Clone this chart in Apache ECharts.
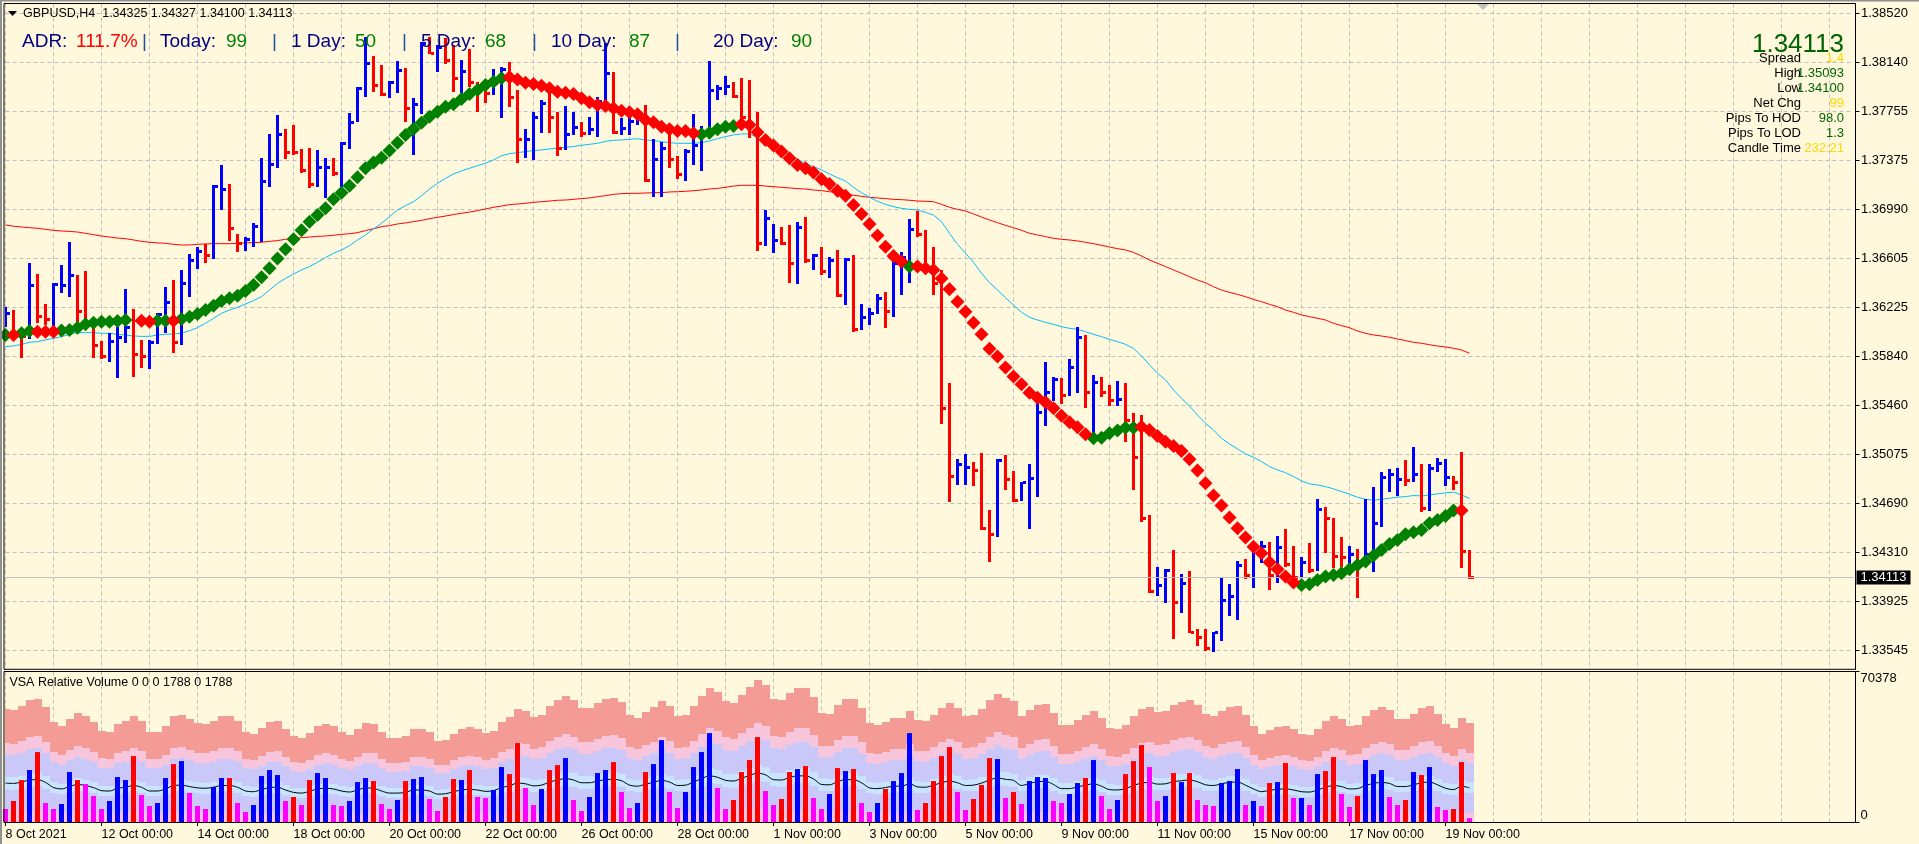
<!DOCTYPE html>
<html>
<head>
<meta charset="utf-8">
<title>GBPUSD,H4</title>
<script src="https://cdn.jsdelivr.net/npm/echarts@6/dist/echarts.min.js"></script>
<style>
html, body { margin: 0; padding: 0; background: #FFF8DC; }
#main { width: 1919px; height: 844px; }
</style>
</head>
<body>
<div id="main"></div>
<script>
var tickLabels = ['8 Oct 2021','12 Oct 00:00','14 Oct 00:00','18 Oct 00:00','20 Oct 00:00','22 Oct 00:00','26 Oct 00:00','28 Oct 00:00','1 Nov 00:00','3 Nov 00:00','5 Nov 00:00','9 Nov 00:00','11 Nov 00:00','15 Nov 00:00','17 Nov 00:00','19 Nov 00:00'];
var priceTicks = [1.38520,1.38140,1.37755,1.37375,1.36990,1.36605,1.36225,1.35840,1.35460,1.35075,1.34690,1.34310,1.33925,1.33545];
var lastPrice = 1.34113;

var barHigh = [1.36224,1.36203,1.36065,1.36568,1.36485,1.36250,1.36411,1.36555,1.36732,1.36474,1.36508,1.36099,1.35961,1.36021,1.36073,1.36367,1.36211,1.35969,1.35969,1.36177,1.36385,1.36437,1.36516,1.36640,1.36692,1.36716,1.37177,1.37336,1.37187,1.36794,1.36771,1.36880,1.37388,1.37578,1.37726,1.37614,1.37648,1.37461,1.37466,1.37453,1.37393,1.37393,1.37513,1.37739,1.37942,1.38338,1.38189,1.38116,1.37991,1.38148,1.38090,1.37856,1.38299,1.38338,1.38273,1.38325,1.38273,1.38155,1.38241,1.37986,1.37942,1.38083,1.38103,1.38142,1.37921,1.37614,1.37752,1.37843,1.37895,1.37752,1.37796,1.37752,1.37669,1.37713,1.37869,1.38286,1.38059,1.37700,1.37713,1.37752,1.37804,1.37536,1.37518,1.37583,1.37406,1.37461,1.37734,1.37640,1.38148,1.37960,1.38030,1.37986,1.38012,1.37999,1.37752,1.36984,1.36875,1.36849,1.36867,1.36888,1.36927,1.36638,1.36692,1.36614,1.36672,1.36606,1.36633,1.36250,1.36216,1.36328,1.36341,1.36606,1.36653,1.36914,1.36979,1.36828,1.36692,1.36516,1.35630,1.35037,1.35079,1.35014,1.35084,1.34642,1.35037,1.35071,1.34946,1.34863,1.35001,1.35474,1.35795,1.35678,1.35670,1.35818,1.36068,1.36008,1.35696,1.35678,1.35618,1.35649,1.35630,1.35396,1.35383,1.34603,1.34194,1.34178,1.34329,1.34142,1.34165,1.33709,1.33712,1.33691,1.34113,1.34064,1.34243,1.34259,1.34355,1.34399,1.34389,1.34438,1.34493,1.34360,1.34277,1.34381,1.34728,1.34668,1.34577,1.34428,1.34360,1.34337,1.34728,1.34819,1.34936,1.34962,1.34972,1.35032,1.35136,1.35001,1.35001,1.35045,1.35040,1.34907,1.35093,1.34327];
var barLow = [1.36073,1.35995,1.35831,1.35974,1.36104,1.36086,1.36057,1.36333,1.36307,1.36112,1.36099,1.35831,1.35818,1.35800,1.35675,1.35948,1.35683,1.35753,1.35743,1.35938,1.36021,1.35870,1.35930,1.36307,1.36524,1.36573,1.36601,1.36984,1.36745,1.36659,1.36664,1.36697,1.36732,1.37166,1.37315,1.37383,1.37414,1.37271,1.37158,1.37166,1.37080,1.37253,1.37166,1.37461,1.37674,1.37869,1.37903,1.37877,1.37861,1.37895,1.37674,1.37414,1.37734,1.38200,1.38064,1.38124,1.37908,1.37895,1.37947,1.37752,1.37817,1.37882,1.37700,1.37791,1.37349,1.37393,1.37375,1.37588,1.37583,1.37408,1.37453,1.37570,1.37557,1.37570,1.37557,1.37830,1.37578,1.37570,1.37570,1.37648,1.37205,1.37088,1.37088,1.37310,1.37226,1.37210,1.37336,1.37289,1.37583,1.37843,1.37882,1.37856,1.37687,1.37544,1.36667,1.36703,1.36651,1.36711,1.36416,1.36406,1.36573,1.36516,1.36474,1.36450,1.36302,1.36242,1.36034,1.36047,1.36086,1.36172,1.36062,1.36151,1.36320,1.36411,1.36776,1.36490,1.36320,1.35313,1.34707,1.34837,1.34837,1.34832,1.34485,1.34238,1.34433,1.34798,1.34702,1.34712,1.34493,1.34746,1.35300,1.35492,1.35469,1.35534,1.35557,1.35440,1.35240,1.35526,1.35456,1.35456,1.35175,1.34798,1.34545,1.33991,1.33973,1.33918,1.33631,1.33835,1.33678,1.33582,1.33543,1.33530,1.33621,1.33817,1.33783,1.34100,1.34035,1.34225,1.34017,1.34074,1.34199,1.34108,1.34108,1.34152,1.34168,1.34308,1.34186,1.34199,1.34199,1.33957,1.34277,1.34160,1.34511,1.34785,1.34754,1.34832,1.34863,1.34629,1.34637,1.34936,1.34832,1.34798,1.34186,1.34100];
var barClose = [1.36177,1.36008,1.35995,1.36394,1.36151,1.36130,1.36406,1.36391,1.36469,1.36190,1.36104,1.35925,1.35839,1.35956,1.35987,1.36065,1.35852,1.35839,1.35951,1.36164,1.36263,1.35948,1.36411,1.36593,1.36659,1.36625,1.37166,1.37148,1.36838,1.36724,1.36750,1.36854,1.37203,1.37336,1.37570,1.37432,1.37432,1.37289,1.37184,1.37315,1.37315,1.37271,1.37500,1.37669,1.37929,1.38129,1.37960,1.37887,1.37981,1.38077,1.37773,1.37809,1.38286,1.38208,1.38254,1.38148,1.38012,1.38064,1.37981,1.37908,1.37895,1.37973,1.38083,1.37861,1.37531,1.37536,1.37708,1.37817,1.37705,1.37466,1.37575,1.37630,1.37583,1.37609,1.37830,1.38051,1.37588,1.37622,1.37674,1.37713,1.37218,1.37380,1.37461,1.37375,1.37258,1.37440,1.37487,1.37570,1.37916,1.37934,1.37952,1.37869,1.37708,1.37648,1.36719,1.36916,1.36745,1.36724,1.36568,1.36846,1.36588,1.36630,1.36503,1.36593,1.36318,1.36598,1.36047,1.36146,1.36177,1.36291,1.36190,1.36568,1.36614,1.36833,1.36789,1.36529,1.36411,1.35430,1.34902,1.34993,1.34972,1.34949,1.34493,1.34446,1.35027,1.34881,1.34712,1.34858,1.34884,1.35401,1.35560,1.35657,1.35534,1.35753,1.35987,1.35557,1.35636,1.35557,1.35500,1.35505,1.35339,1.35050,1.34571,1.34004,1.34051,1.34165,1.33918,1.34069,1.33686,1.33644,1.33556,1.33686,1.33934,1.33965,1.34207,1.34129,1.34355,1.34355,1.34129,1.34347,1.34212,1.34113,1.34233,1.34165,1.34642,1.34571,1.34277,1.34272,1.34295,1.34199,1.34295,1.34532,1.34894,1.34915,1.34881,1.34871,1.34915,1.34650,1.34962,1.35006,1.34897,1.34858,1.34316,1.34113];
var barDirs = 'brrbrrbbbrrrrbbbrrbbbrbbbrbbrrbbbbbrrrrbbrbbbbrrbbrbbrbrrbrrrbbrrbbbrrbbrbbbrbbbrbbrrbbbbbbrrrrbbrrbrbrbrbrbbbrbbbrrrrrbbrrrbrrbbbbbrbbrbrrbrrrrbbrbrrrbbbbrbbrbrrbrbrrrbrbbbbbrbrbbbrrr'.split('');

var trendValues = [1.36008,1.36008,1.36021,1.36039,1.36034,1.36034,1.36034,1.36042,1.36047,1.36065,1.36091,1.36104,1.36112,1.36112,1.36117,1.36125,null,1.36120,1.36112,1.36120,1.36120,1.36120,1.36133,1.36151,1.36172,1.36203,1.36237,1.36274,1.36294,1.36315,1.36351,1.36398,1.36458,1.36529,1.36606,1.36677,1.36755,1.36825,1.36893,1.36945,1.36997,1.37067,1.37119,1.37174,1.37239,1.37310,1.37354,1.37393,1.37448,1.37510,1.37570,1.37617,1.37666,1.37713,1.37752,1.37791,1.37809,1.37851,1.37890,1.37921,1.37960,1.37986,1.38012,1.38020,1.38004,1.37978,1.37968,1.37955,1.37934,1.37908,1.37900,1.37890,1.37856,1.37825,1.37804,1.37796,1.37778,1.37760,1.37747,1.37731,1.37687,1.37669,1.37635,1.37614,1.37601,1.37601,1.37583,1.37575,1.37588,1.37614,1.37635,1.37640,1.37653,1.37648,1.37591,1.37531,1.37487,1.37440,1.37388,1.37336,1.37310,1.37276,1.37224,1.37187,1.37135,1.37096,1.37023,1.36953,1.36875,1.36784,1.36697,1.36625,1.36581,1.36542,1.36542,1.36529,1.36516,1.36450,1.36365,1.36268,1.36190,1.36104,1.36013,1.35901,1.35839,1.35753,1.35683,1.35623,1.35557,1.35518,1.35482,1.35435,1.35378,1.35326,1.35287,1.35232,1.35201,1.35206,1.35240,1.35261,1.35284,1.35284,1.35292,1.35266,1.35219,1.35175,1.35141,1.35102,1.35037,1.34949,1.34850,1.34754,1.34676,1.34582,1.34499,1.34426,1.34355,1.34303,1.34233,1.34178,1.34121,1.34074,1.34056,1.34061,1.34095,1.34121,1.34134,1.34147,1.34178,1.34212,1.34238,1.34285,1.34329,1.34376,1.34407,1.34451,1.34467,1.34485,1.34537,1.34563,1.34594,1.34637,1.34637,1.34634];
var trendDirs = 'grggrrrgggggggggrrrggrgggggggggggggggggggggggggggggggggggggggggrrrrrrrrrrrrrrrrrrrrrrrrgggggrrrrrrrrrrrrrrrrrrrrrgrrrrrrrrrrrrrrrrrrrrrrggggggrrrrrrrrrrrrrrrrrrrrggggggggggggggggggggr'.split('');

var maFast = [1.35917,1.35922,1.35935,1.35951,1.35956,1.35969,1.35982,1.35995,1.36013,1.36026,1.36026,1.36026,1.36021,1.36021,1.36013,1.36008,1.36000,1.35997,1.35997,1.36008,1.36013,1.36016,1.36021,1.36042,1.36065,1.36099,1.36138,1.36177,1.36203,1.36224,1.36250,1.36276,1.36307,1.36359,1.36411,1.36450,1.36484,1.36516,1.36542,1.36576,1.36612,1.36646,1.36672,1.36706,1.36750,1.36789,1.36836,1.36880,1.36932,1.36984,1.37018,1.37049,1.37096,1.37148,1.37192,1.37231,1.37265,1.37289,1.37310,1.37330,1.37349,1.37375,1.37408,1.37424,1.37432,1.37440,1.37448,1.37453,1.37461,1.37466,1.37474,1.37479,1.37489,1.37497,1.37505,1.37520,1.37528,1.37531,1.37536,1.37541,1.37531,1.37526,1.37518,1.37510,1.37505,1.37505,1.37505,1.37510,1.37523,1.37541,1.37557,1.37570,1.37578,1.37578,1.37552,1.37518,1.37479,1.37448,1.37414,1.37380,1.37349,1.37323,1.37297,1.37265,1.37237,1.37210,1.37161,1.37119,1.37083,1.37052,1.37028,1.37010,1.36997,1.36989,1.36984,1.36966,1.36945,1.36893,1.36802,1.36716,1.36646,1.36576,1.36490,1.36416,1.36359,1.36299,1.36242,1.36185,1.36146,1.36125,1.36107,1.36091,1.36073,1.36060,1.36052,1.36034,1.36013,1.35995,1.35974,1.35956,1.35935,1.35904,1.35844,1.35774,1.35709,1.35657,1.35578,1.35513,1.35453,1.35383,1.35318,1.35266,1.35201,1.35157,1.35118,1.35079,1.35053,1.35019,1.34980,1.34954,1.34933,1.34902,1.34868,1.34845,1.34837,1.34824,1.34806,1.34785,1.34764,1.34741,1.34725,1.34717,1.34725,1.34733,1.34741,1.34746,1.34754,1.34751,1.34759,1.34767,1.34775,1.34780,1.34759,1.34731];
var maSlow = [1.36867,1.36857,1.36851,1.36846,1.36841,1.36833,1.36825,1.36820,1.36817,1.36812,1.36802,1.36791,1.36781,1.36773,1.36765,1.36760,1.36750,1.36739,1.36732,1.36727,1.36724,1.36716,1.36711,1.36711,1.36716,1.36719,1.36721,1.36721,1.36721,1.36724,1.36727,1.36729,1.36732,1.36739,1.36745,1.36755,1.36763,1.36768,1.36773,1.36778,1.36781,1.36786,1.36794,1.36799,1.36807,1.36823,1.36838,1.36854,1.36862,1.36875,1.36883,1.36893,1.36903,1.36916,1.36927,1.36937,1.36948,1.36958,1.36968,1.36979,1.36992,1.37005,1.37015,1.37026,1.37031,1.37036,1.37044,1.37049,1.37054,1.37060,1.37062,1.37067,1.37073,1.37078,1.37088,1.37096,1.37106,1.37112,1.37114,1.37114,1.37117,1.37119,1.37119,1.37125,1.37127,1.37130,1.37135,1.37140,1.37148,1.37153,1.37161,1.37171,1.37177,1.37177,1.37177,1.37171,1.37166,1.37161,1.37156,1.37151,1.37148,1.37140,1.37135,1.37127,1.37119,1.37109,1.37099,1.37091,1.37083,1.37078,1.37073,1.37067,1.37065,1.37060,1.37054,1.37052,1.37049,1.37028,1.37005,1.36989,1.36976,1.36953,1.36929,1.36906,1.36885,1.36864,1.36846,1.36825,1.36802,1.36789,1.36776,1.36763,1.36755,1.36750,1.36742,1.36732,1.36721,1.36708,1.36695,1.36682,1.36672,1.36653,1.36625,1.36593,1.36568,1.36542,1.36516,1.36490,1.36463,1.36437,1.36416,1.36385,1.36359,1.36341,1.36325,1.36307,1.36286,1.36268,1.36247,1.36229,1.36203,1.36185,1.36164,1.36151,1.36138,1.36125,1.36099,1.36081,1.36065,1.36039,1.36021,1.36008,1.36000,1.35990,1.35977,1.35964,1.35951,1.35943,1.35932,1.35922,1.35914,1.35904,1.35891,1.35865];

var volumes = [6070,9810,19620,24290,32700,8870,6070,8410,23360,19620,17750,12140,6070,9810,21020,19620,30830,12610,7470,8870,20550,27090,28490,13550,7470,6070,16350,20550,20550,8870,4670,7940,21490,24290,21950,9810,11680,7940,19620,22890,20550,7940,7470,9810,18680,20550,19150,8410,6070,10280,19150,20090,21020,10740,5140,11680,20090,19620,24290,11680,11210,14950,25690,22420,36900,15880,7940,15410,24290,26620,29890,10280,5140,11680,22890,24290,28030,14010,6540,8870,23360,27090,38300,14010,6540,14010,25690,32700,41570,15880,6070,10280,23360,28960,39700,14480,7940,10740,23360,24760,26160,11210,6070,13080,25220,23820,24760,8870,4670,8870,15410,19150,22890,41570,5610,8870,19150,30830,35030,14010,5610,10740,17280,29890,29430,11210,14010,8410,19150,21020,20550,9810,8870,13080,18220,20550,28960,12140,6070,10280,22420,28490,35970,25690,9810,12140,22890,18680,22890,10280,7940,7470,18220,19150,24760,7940,9810,7470,18220,18680,27560,11210,11210,7940,22420,23820,30360,13080,7010,12140,28960,22420,24290,11680,7940,10280,23360,21950,25690,7010,5610,6070,28030,1788];
var volumeKinds = 'mrrbrmmbbrmmmbbbrmmbbrbmmmbbrmmbbbbmrmrbbmmbbbrmmbrbbmmrrbrmmbbrrmmbrrbmmbbbrmmbrbbmmbbbbmmrrrrmmrrbrmmbrbrmmbrbbbmrrrrmmrrrbmrmbbbmmbbrbmmbrrrmmbrbrmmmbbbmbmrbrmbmbrrmmrbbbmmrbrbmmrrm'.split('');

var bandTop = [52770,52300,54170,56970,57440,53710,46700,44830,48100,50900,49500,46700,42500,42030,45770,47170,49500,47170,42030,42030,44830,49500,49970,48100,46230,45770,47170,49500,49500,47170,42030,41100,43900,46700,47170,43430,40160,39230,41560,44830,45770,44830,42030,40630,43430,46230,45770,42030,39230,39230,40160,43430,43430,42030,37830,38290,41100,43430,44370,43430,41560,42500,46700,49040,52770,51840,49040,49970,54170,56970,58840,56970,53240,53240,55570,57440,57910,56040,49970,48570,51370,53710,56510,54170,49500,49970,54170,58840,62580,60710,56510,55570,59310,63050,66310,63980,57440,56970,60240,62580,62580,58380,50900,50440,54640,57440,57440,53240,46230,45300,46700,48570,48570,51840,47630,47170,49970,53240,55570,53240,49500,49970,52770,56970,59780,57910,56510,49500,52300,54640,55110,50900,45300,45300,47630,49970,51840,48570,43900,43430,45300,49500,52770,53710,51370,51840,54640,56040,56970,54640,50440,49500,51840,53710,54170,49970,44830,41100,42960,44370,44830,43430,41100,40630,43430,47170,49500,48100,44830,45300,49500,52300,53710,52300,48100,48100,50440,53240,54170,50440,45770,43900,48570,46230];
var bandPink = [36950,36620,37930,39890,40220,37610,32700,31390,33680,35640,34660,32700,29760,29430,32050,33030,34660,33030,29430,29430,31390,34660,34990,33680,32370,32050,33030,34660,34660,33030,29430,28780,30740,32700,33030,30410,28120,27470,29100,31390,32050,31390,29430,28450,30410,32370,32050,29430,27470,27470,28120,30410,30410,29430,26490,26810,28780,30410,31070,30410,29100,29760,32700,34340,36950,36300,34340,34990,37930,39890,41200,39890,37280,37280,38910,40220,40550,39240,34990,34010,35970,37610,39570,37930,34660,34990,37930,41200,43820,42510,39570,38910,41530,44150,46430,44800,40220,39890,42180,43820,43820,40880,35640,35320,38260,40220,40220,37280,32370,31720,32700,34010,34010,36300,33350,33030,34990,37280,38910,37280,34660,34990,36950,39890,41860,40550,39570,34660,36620,38260,38590,35640,31720,31720,33350,34990,36300,34010,30740,30410,31720,34660,36950,37610,35970,36300,38260,39240,39890,38260,35320,34660,36300,37610,37930,34990,31390,28780,30080,31070,31390,30410,28780,28450,30410,33030,34660,33680,31390,31720,34660,36620,37610,36620,33680,33680,35320,37280,37930,35320,32050,30740,34010,32370];
var bandLavender = [31640,31360,32480,34160,34440,32200,28000,26880,28840,30520,29680,28000,25480,25200,27440,28280,29680,28280,25200,25200,26880,29680,29960,28840,27720,27440,28280,29680,29680,28280,25200,24640,26320,28000,28280,26040,24080,23520,24920,26880,27440,26880,25200,24360,26040,27720,27440,25200,23520,23520,24080,26040,26040,25200,22680,22960,24640,26040,26600,26040,24920,25480,28000,29400,31640,31080,29400,29960,32480,34160,35280,34160,31920,31920,33320,34440,34720,33600,29960,29120,30800,32200,33880,32480,29680,29960,32480,35280,37520,36400,33880,33320,35560,37800,39760,38360,34440,34160,36120,37520,37520,35000,30520,30240,32760,34440,34440,31920,27720,27160,28000,29120,29120,31080,28560,28280,29960,31920,33320,31920,29680,29960,31640,34160,35840,34720,33880,29680,31360,32760,33040,30520,27160,27160,28560,29960,31080,29120,26320,26040,27160,29680,31640,32200,30800,31080,32760,33600,34160,32760,30240,29680,31080,32200,32480,29960,26880,24640,25760,26600,26880,26040,24640,24360,26040,28280,29680,28840,26880,27160,29680,31360,32200,31360,28840,28840,30240,31920,32480,30240,27440,26320,29120,27720];
var bandBlue = [21130,20940,21690,22810,23000,21510,18700,17950,19260,20380,19820,18700,17020,16830,18330,18890,19820,18890,16830,16830,17950,19820,20010,19260,18510,18330,18890,19820,19820,18890,16830,16460,17580,18700,18890,17390,16080,15710,16640,17950,18330,17950,16830,16270,17390,18510,18330,16830,15710,15710,16080,17390,17390,16830,15150,15330,16460,17390,17770,17390,16640,17020,18700,19640,21130,20760,19640,20010,21690,22810,23560,22810,21320,21320,22250,23000,23190,22440,20010,19450,20570,21510,22630,21690,19820,20010,21690,23560,25060,24310,22630,22250,23750,25250,26550,25620,23000,22810,24120,25060,25060,23380,20380,20200,21880,23000,23000,21320,18510,18140,18700,19450,19450,20760,19070,18890,20010,21320,22250,21320,19820,20010,21130,22810,23940,23190,22630,19820,20940,21880,22070,20380,18140,18140,19070,20010,20760,19450,17580,17390,18140,19820,21130,21510,20570,20760,21880,22440,22810,21880,20200,19820,20760,21510,21690,20010,17950,16460,17200,17770,17950,17390,16460,16270,17390,18890,19820,19260,17950,18140,19820,20940,21510,20940,19260,19260,20200,21320,21690,20200,18330,17580,19450,18510];
var avgVolume = [18190,18030,18680,19640,19800,18520,16100,15460,16580,17550,17070,16100,14650,14490,15780,16260,17070,16260,14490,14490,15460,17070,17230,16580,15940,15780,16260,17070,17070,16260,14490,14170,15130,16100,16260,14970,13850,13520,14330,15460,15780,15460,14490,14010,14970,15940,15780,14490,13520,13520,13850,14970,14970,14490,13040,13200,14170,14970,15300,14970,14330,14650,16100,16910,18190,17870,16910,17230,18680,19640,20290,19640,18350,18350,19160,19800,19960,19320,17230,16740,17710,18520,19480,18680,17070,17230,18680,20290,21570,20930,19480,19160,20450,21740,22860,22060,19800,19640,20770,21570,21570,20130,17550,17390,18840,19800,19800,18350,15940,15620,16100,16740,16740,17870,16420,16260,17230,18350,19160,18350,17070,17230,18190,19640,20610,19960,19480,17070,18030,18840,19000,17550,15620,15620,16420,17230,17870,16740,15130,14970,15620,17070,18190,18520,17710,17870,18840,19320,19640,18840,17390,17070,17870,18520,18680,17230,15460,14170,14810,15300,15460,14970,14170,14010,14970,16260,17070,16580,15460,15620,17070,18030,18520,18030,16580,16580,17390,18350,18680,17390,15780,15130,16740,15940];
var bandBlueLow = [15260,15120,15660,16470,16610,15530,13500,12960,13910,14720,14310,13500,12290,12150,13230,13640,14310,13640,12150,12150,12960,14310,14450,13910,13370,13230,13640,14310,14310,13640,12150,11880,12690,13500,13640,12560,11610,11340,12020,12960,13230,12960,12150,11750,12560,13370,13230,12150,11340,11340,11610,12560,12560,12150,10940,11070,11880,12560,12830,12560,12020,12290,13500,14180,15260,14990,14180,14450,15660,16470,17010,16470,15390,15390,16070,16610,16740,16200,14450,14040,14850,15530,16340,15660,14310,14450,15660,17010,18090,17550,16340,16070,17150,18230,19170,18500,16610,16470,17420,18090,18090,16880,14720,14580,15800,16610,16610,15390,13370,13100,13500,14040,14040,14990,13770,13640,14450,15390,16070,15390,14310,14450,15260,16470,17280,16740,16340,14310,15120,15800,15930,14720,13100,13100,13770,14450,14990,14040,12690,12560,13100,14310,15260,15530,14850,14990,15800,16200,16470,15800,14580,14310,14990,15530,15660,14450,12960,11880,12420,12830,12960,12560,11880,11750,12560,13640,14310,13910,12960,13100,14310,15120,15530,15120,13910,13910,14580,15390,15660,14580,13230,12690,14040,13370];
var bandFloor = [4750,4700,4870,5120,5170,4830,4200,4030,4330,4580,4450,4200,3820,3780,4120,4240,4450,4240,3780,3780,4030,4450,4490,4330,4160,4120,4240,4450,4450,4240,3780,3700,3950,4200,4240,3910,3610,3530,3740,4030,4120,4030,3780,3650,3910,4160,4120,3780,3530,3530,3610,3910,3910,3780,3400,3440,3700,3910,3990,3910,3740,3820,4200,4410,4750,4660,4410,4490,4870,5120,5290,5120,4790,4790,5000,5170,5210,5040,4490,4370,4620,4830,5080,4870,4450,4490,4870,5290,5630,5460,5080,5000,5330,5670,5960,5750,5170,5120,5420,5630,5630,5250,4580,4540,4910,5170,5170,4790,4160,4070,4200,4370,4370,4660,4280,4240,4490,4790,5000,4790,4450,4490,4750,5120,5380,5210,5080,4450,4700,4910,4960,4580,4070,4070,4280,4490,4660,4370,3950,3910,4070,4450,4750,4830,4620,4660,4910,5040,5120,4910,4540,4450,4660,4830,4870,4490,4030,3700,3860,3990,4030,3910,3700,3650,3910,4240,4450,4330,4030,4070,4450,4700,4830,4700,4330,4330,4540,4790,4870,4540,4120,3950,4370,4160];

var headerText = 'GBPUSD,H4  1.34325 1.34327 1.34100 1.34113';
var vsaText = 'VSA Relative Volume 0 0 0 1788 0 1788';
var adrTexts = ['ADR:','111.7%','|','Today:','99','|','1 Day:','50','|','5 Day:','68','|','10 Day:','87','|','20 Day:','90'];
var infoLabels = ['Spread','High','Low','Net Chg','Pips To HOD','Pips To LOD','Candle Time'];
var infoValues = ['1.4','1.35093','1.34100','99','98.0','1.3','232:21'];
var infoBig = '1.34113';

// layout and colours
var FONT = '"Liberation Sans", Arial, sans-serif';
var adrX = [22,76,142,160,226,272,291,355,402,421,485,532,551,629,675,713,791];
var adrColors = ['#000080','#FF0000','#1F4FA0','#000080','#008000','#1F4FA0','#000080','#008000','#1F4FA0','#000080','#008000','#1F4FA0','#000080','#008000','#1F4FA0','#000080','#008000'];
var infoY = [58,73.3,88,103.3,118.3,133.3,148.3];
var infoColors = ['#FFD700','#006400','#006400','#FFD700','#006400','#006400','#FFD700'];
var dirColors = { b: '#0000FF', r: '#FF0000' };
var kindColors = { b: '#0000FF', r: '#FF0000', m: '#FF00FF' };
var gridLine = { color: '#C0C0C0', width: 1, type: [4, 3] };

var SLOTS = 232;
var categories = [];
for (var i = 0; i < SLOTS; i++) {
    categories.push(i % 12 === 0 && tickLabels[i / 12] ? tickLabels[i / 12] : '');
}

function renderBar(params, api) {
    var x = api.value(0);
    var top = api.coord([x, api.value(1)]);
    var bottom = api.coord([x, api.value(2)]);
    var close = api.coord([x, api.value(3)]);
    var color = dirColors[barDirs[x]];
    var y0 = Math.round(top[1]);
    var y1 = Math.round(bottom[1]);
    var left = Math.round(top[0] - 1.4);
    return {
        type: 'group',
        children: [
            { type: 'rect', shape: { x: left, y: y0, width: 3, height: y1 - y0 }, style: { fill: color } },
            { type: 'rect', shape: { x: left + 3, y: Math.round(close[1] - 1.5), width: 3, height: 3 }, style: { fill: color } }
        ]
    };
}

function renderBand(params, api) {
    var x = api.value(0);
    var top = api.coord([x, api.value(1)]);
    var base = api.coord([x, 0]);
    var y0 = Math.round(top[1]);
    // nudge before rounding, the slot edges sit on half pixels
    return {
        type: 'rect',
        shape: { x: Math.round(top[0] - 3.9), y: y0, width: 8, height: base[1] - y0 },
        style: { fill: api.visual('color') }
    };
}

function bandSeries(values, color) {
    return {
        type: 'custom',
        xAxisIndex: 1,
        yAxisIndex: 1,
        clip: true,
        z: 1,
        silent: true,
        itemStyle: { color: color },
        renderItem: renderBand,
        encode: { x: 0, y: 1 },
        data: values.map(function (v, i) { return [i, v]; })
    };
}

function trendSeries(dir, color) {
    var pts = [];
    trendValues.forEach(function (v, i) {
        if (v !== null && trendDirs[i] === dir) pts.push([i, v]);
    });
    return {
        type: 'scatter',
        symbol: 'diamond',
        symbolSize: 14,
        z: 5,
        silent: true,
        itemStyle: { color: color, opacity: 1 },
        data: pts
    };
}

var graphics = [
    { type: 'rect', shape: { x: 4, y: 3.5, width: 1851.5, height: 665.8 }, style: { fill: 'none', stroke: '#000', lineWidth: 1 }, z: 20, silent: true },
    { type: 'rect', shape: { x: 4, y: 671.5, width: 1851.5, height: 151 }, style: { fill: 'none', stroke: '#000', lineWidth: 1 }, z: 20, silent: true },
    { type: 'rect', shape: { x: 0, y: 0, width: 2, height: 844 }, style: { fill: '#909090' }, z: 20, silent: true },
    { type: 'rect', shape: { x: 0, y: 0, width: 1919, height: 1.5 }, style: { fill: '#909090' }, z: 20, silent: true },
    { type: 'polygon', shape: { points: [[8, 11], [17, 11], [12.5, 16]] }, style: { fill: '#000' }, z: 20, silent: true },
    { type: 'polygon', shape: { points: [[1477, 4], [1489, 4], [1483, 10]] }, style: { fill: '#C0C0C0' }, z: 20, silent: true },
    { type: 'text', x: 23, y: 14, z: 20, silent: true, style: { text: headerText, font: '12.5px ' + FONT, fill: '#000', verticalAlign: 'middle' } },
    { type: 'text', x: 9.4, y: 682.7, z: 20, silent: true, style: { text: vsaText, font: '12.5px ' + FONT, fill: '#000', verticalAlign: 'middle' } },
    { type: 'text', x: 1844, y: 44.5, z: 20, silent: true, style: { text: infoBig, font: '26px ' + FONT, fill: '#006400', align: 'right', verticalAlign: 'middle' } }
];
adrTexts.forEach(function (t, i) {
    graphics.push({ type: 'text', x: adrX[i], y: 42, z: 20, silent: true, style: { text: t, font: '19px ' + FONT, fill: adrColors[i], verticalAlign: 'middle' } });
});
infoLabels.forEach(function (t, i) {
    graphics.push({ type: 'text', x: 1801, y: infoY[i], z: 20, silent: true, style: { text: t, font: '13px ' + FONT, fill: '#000', align: 'right', verticalAlign: 'middle' } });
    graphics.push({ type: 'text', x: 1844, y: infoY[i], z: 21, silent: true, style: { text: infoValues[i], font: '13px ' + FONT, fill: infoColors[i], align: 'right', verticalAlign: 'middle' } });
});

var dom = document.getElementById('main');
var myChart = echarts.init(dom, null, { renderer: 'canvas' });
var option = {
    animation: false,
    backgroundColor: '#FFF8DC',
    textStyle: { fontFamily: FONT },
    grid: [
        { left: 5.5, width: (SLOTS - 1) * 8, top: 3.5, height: 665.8 },
        { left: 5.5, width: (SLOTS - 1) * 8, top: 671.5, height: 150.5 }
    ],
    xAxis: [
        {
            type: 'category', gridIndex: 0, boundaryGap: false, data: categories,
            axisLine: { show: false }, axisTick: { show: false }, axisLabel: { show: false },
            splitLine: { show: true, interval: 5, lineStyle: gridLine }
        },
        {
            type: 'category', gridIndex: 1, boundaryGap: false, data: categories,
            axisLine: { show: true, lineStyle: { color: '#000' } },
            axisTick: {
                show: true, length: 4, lineStyle: { color: '#000' },
                interval: function (i) { return i % 12 === 0 && i <= 180; }
            },
            axisLabel: { show: true, interval: 11, align: 'left', margin: 6, color: '#000', fontSize: 12.5, fontFamily: FONT },
            splitLine: { show: true, interval: 5, lineStyle: gridLine }
        }
    ],
    yAxis: [
        {
            type: 'value', gridIndex: 0, position: 'right', offset: 2,
            min: 1.33397, max: 1.385967,
            axisLine: { show: true, lineStyle: { color: '#000' } },
            axisTick: { show: true, length: 4, customValues: priceTicks, lineStyle: { color: '#000' } },
            axisLabel: {
                show: true, margin: 5.5, color: '#000', fontSize: 13, fontFamily: FONT,
                customValues: priceTicks,
                formatter: function (v) { return v.toFixed(5); }
            },
            splitLine: { show: true, lineStyle: gridLine }
        },
        {
            type: 'value', gridIndex: 1, position: 'right', offset: 2,
            min: 0, max: 70378,
            axisLine: { show: true, lineStyle: { color: '#000' } },
            axisTick: { show: true, length: 4, customValues: [0, 70378], lineStyle: { color: '#000' } },
            axisLabel: {
                show: true, margin: 5, color: '#000', fontSize: 13, fontFamily: FONT,
                customValues: [0, 70378],
                verticalAlignMinLabel: 'bottom', verticalAlignMaxLabel: 'top',
                formatter: function (v) { return String(v); }
            },
            splitLine: { show: false }
        }
    ],
    graphic: { elements: graphics },
    series: [
        {
            type: 'line', data: maSlow, symbol: 'none', z: 2, silent: true,
            lineStyle: { color: '#FF0000', width: 1 }
        },
        {
            type: 'line', data: maFast, symbol: 'none', z: 2, silent: true,
            lineStyle: { color: '#00BFFF', width: 1 },
            markLine: {
                silent: true, symbol: 'none', animation: false, precision: 5,
                lineStyle: { color: '#C0C0C0', width: 1, type: 'solid' },
                label: {
                    position: 'end', distance: 3, formatter: function () { return lastPrice.toFixed(5); },
                    color: '#fff', backgroundColor: '#000', padding: [1, 4], fontSize: 13, lineHeight: 12, fontFamily: FONT
                },
                data: [{ yAxis: lastPrice }]
            }
        },
        {
            type: 'custom', z: 3, clip: true, silent: true,
            renderItem: renderBar,
            encode: { x: 0, y: [1, 2, 3] },
            data: barHigh.map(function (h, i) { return [i, h, barLow[i], barClose[i]]; })
        },
        trendSeries('g', '#008000'),
        trendSeries('r', '#FF0000'),
        bandSeries(bandTop, '#F59B95'),
        bandSeries(bandPink, '#F8C6DC'),
        bandSeries(bandLavender, '#CAC8F8'),
        bandSeries(bandBlue, '#C8E4FF'),
        bandSeries(bandBlueLow, '#CAC8F8'),
        bandSeries(bandFloor, '#F8C6DC'),
        {
            type: 'line', xAxisIndex: 1, yAxisIndex: 1, data: avgVolume, symbol: 'none', smooth: 0.3, z: 2, silent: true,
            lineStyle: { color: '#000', width: 1 }
        },
        {
            type: 'bar', xAxisIndex: 1, yAxisIndex: 1, barWidth: 5, z: 3, silent: true,
            data: volumes.map(function (v, i) {
                return { value: v, itemStyle: { color: kindColors[volumeKinds[i]] } };
            })
        }
    ]
};
myChart.setOption(option, true);
window.onresize = myChart.resize;
</script>
</body>
</html>
